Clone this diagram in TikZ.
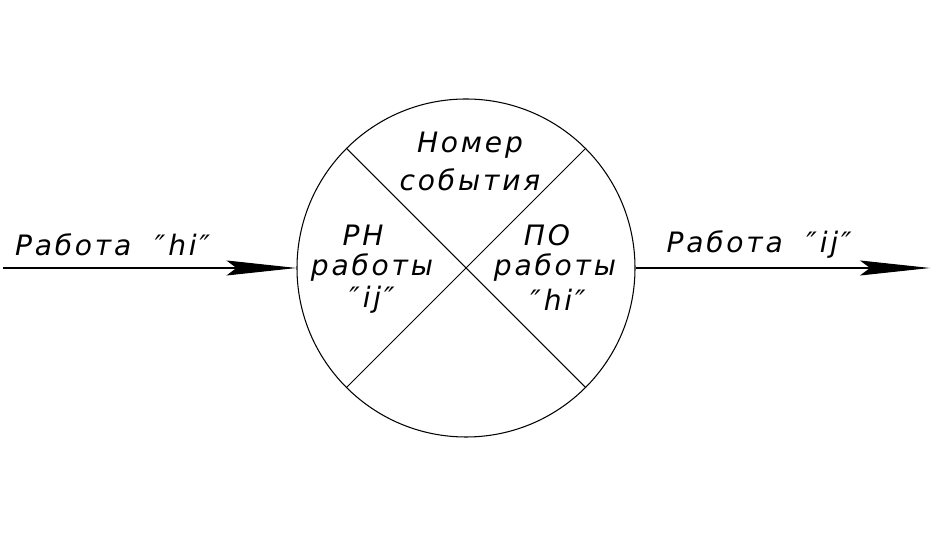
\documentclass[tikz,border=0pt]{standalone}
\usepackage{fontspec}
\setmainfont{DejaVu Sans}[Ligatures=TeXOff,LetterSpace=10]
\usetikzlibrary{arrows.meta}
\tikzset{
  edge/.style={line width=0.6pt},
  event/.style={circle,draw,line width=0.6pt,minimum size=6.76cm,inner sep=0},
  lab/.style={font=\fontsize{16}{19}\selectfont\itshape,inner sep=0},
  arrow/.style={edge,-{Stealth[length=1.4cm,width=0.3cm,inset=0.2cm]}},
}
\begin{document}
\begin{tikzpicture}
  \useasboundingbox (0,0) rectangle (18.64,10.74);
  % the event circle, split into four sectors
  \node[event] (ev) at (9.32,5.38) {};
  \draw[edge] (ev.135) -- (ev.-45);
  \draw[edge] (ev.45) -- (ev.-135);
  % incoming and outgoing works
  \coordinate (in) at (0.06,5.38);
  \coordinate (out) at (18.6,5.38);
  \draw[arrow] (in) -- (ev.west);
  \draw[arrow] (ev.east) -- (out);
  \node[lab] (win) at (2.25,5.84) {Работа \ ″hi″};
  \node[lab] (wout) at (15.18,5.84) {Работа \ ″ij″};
  % sector texts
  \node[lab] (num) at (9.40,7.84) {Номер};
  \node[lab] (ev2) at (9.40,7.14) {события};
  \node[lab] (rn) at (7.26,6.04) {РН};
  \node[lab] (rn2) at (7.44,5.38) {работы};
  \node[lab] (rn3) at (7.44,4.74) {″ij″};
  \node[lab] (po) at (10.94,6.04) {ПО};
  \node[lab] (po2) at (11.10,5.38) {работы};
  \node[lab] (po3) at (11.16,4.74) {″hi″};
\end{tikzpicture}
\end{document}
